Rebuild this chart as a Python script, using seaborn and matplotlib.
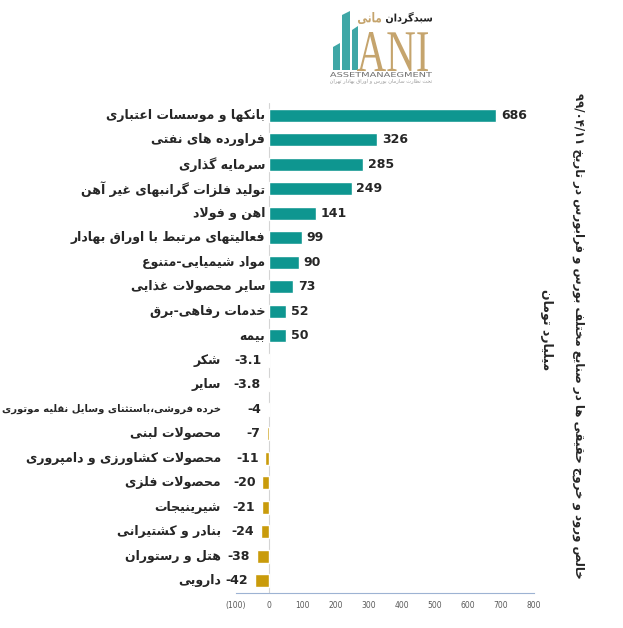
import re
import pandas as pd
import matplotlib
matplotlib.use("Agg")
import matplotlib.pyplot as plt
import seaborn as sns
from matplotlib.textpath import TextPath
from matplotlib.patches import PathPatch, Polygon
from matplotlib.font_manager import FontProperties
from matplotlib.transforms import Affine2D

sectors = [
    "بانکها و موسسات اعتباری",
    "فراورده های نفتی",
    "سرمایه گذاری",
    "تولید فلزات گرانبهای غیر آهن",
    "اهن و فولاد",
    "فعالیتهای مرتبط با اوراق بهادار",
    "مواد شیمیایی-متنوع",
    "سایر محصولات غذایی",
    "خدمات رفاهی-برق",
    "بیمه",
    "شکر",
    "سایر",
    "خرده فروشی،باستثنای وسایل نقلیه موتوری",
    "محصولات لبنی",
    "محصولات کشاورزی و دامپروری",
    "محصولات فلزی",
    "شیرینیجات",
    "بنادر و کشتیرانی",
    "هتل و رستوران",
    "دارویی",
]
values = [686, 326, 285, 249, 141, 99, 90, 73, 52, 50,
          -3.1, -3.8, -4, -7, -11, -20, -21, -24, -38, -42]
x_ticks = [-100, 0, 100, 200, 300, 400, 500, 600, 700, 800]
x_tick_labels = ["(100)", "0", "100", "200", "300", "400", "500", "600", "700", "800"]
title = "خالص ورود و خروج حقیقی ها در صنایع مختلف بورس و فرابورس در تاریخ ۹۹/۰۴/۱۱"
unit = "میلیارد تومان"

TEAL = "#0e9690"
GOLD = "#c99b0b"

# --- minimal persian shaping (matplotlib has no arabic shaping / bidi) ---
DUAL = {0x0628: 0xFE8F, 0x067E: 0xFB56, 0x062A: 0xFE95, 0x062B: 0xFE99, 0x062C: 0xFE9D,
        0x0686: 0xFB7A, 0x062D: 0xFEA1, 0x062E: 0xFEA5, 0x0633: 0xFEB1, 0x0634: 0xFEB5,
        0x0635: 0xFEB9, 0x0636: 0xFEBD, 0x0637: 0xFEC1, 0x0638: 0xFEC5, 0x0639: 0xFEC9,
        0x063A: 0xFECD, 0x0641: 0xFED1, 0x0642: 0xFED5, 0x06A9: 0xFB8E, 0x06AF: 0xFB92,
        0x0644: 0xFEDD, 0x0645: 0xFEE1, 0x0646: 0xFEE5, 0x0647: 0xFEE9, 0x06CC: 0xFBFC}
RIGHT = {0x0627: 0xFE8D, 0x0622: 0xFE81, 0x062F: 0xFEA9, 0x0630: 0xFEAB, 0x0631: 0xFEAD,
         0x0632: 0xFEAF, 0x0698: 0xFB8A, 0x0648: 0xFEED}
LAM_ALEF = {0x0627: 0xFEFB, 0x0622: 0xFEF5}


def shape(s):
    out, i = [], 0
    while i < len(s):
        c = ord(s[i])
        prev = i > 0 and ord(s[i - 1]) in DUAL
        nxt = ord(s[i + 1]) if i + 1 < len(s) else 0
        if c == 0x0644 and nxt in LAM_ALEF:
            out.append(chr(LAM_ALEF[nxt] + prev))
            i += 2
            continue
        if c in DUAL:
            out.append(chr(DUAL[c] + prev + 2 * (nxt in DUAL or nxt in RIGHT)))
        elif c in RIGHT:
            out.append(chr(RIGHT[c] + prev))
        else:
            out.append(s[i])
        i += 1
    return "".join(out)


def fa(s):
    parts = re.findall(r"[0-9۰-۹][0-9۰-۹./]*|[^0-9۰-۹]+", shape(s))
    return "".join(p if p[0].isdigit() else p[::-1] for p in reversed(parts))


def stretch_text(ax, s, x0, x1, y0, y1, color, weight="normal", family="DejaVu Sans"):
    """Draw text squeezed into a pixel box (y grows downward)."""
    tp = TextPath((0, 0), s, size=1, prop=FontProperties(family=family, weight=weight))
    ext = tp.get_extents()
    tr = (Affine2D().translate(-ext.x0, -ext.y0)
          .scale((x1 - x0) / ext.width, -(y1 - y0) / ext.height).translate(x0, y1))
    ax.add_patch(PathPatch(tr.transform_path(tp), color=color, lw=0))


sns.set_style("white")
plt.rcParams["font.family"] = ["DejaVu Sans"]

df = pd.DataFrame({"sector": sectors, "value": values})
colors = [TEAL if v > 0 else GOLD for v in values]

fig = plt.figure(figsize=(6.23, 6.28), dpi=100)
ax = fig.add_axes([236 / 623, 35 / 628, 298 / 623, 490 / 628])
sns.barplot(data=df, x="value", y="sector", hue="sector", palette=colors,
            legend=False, width=0.55, saturation=1, ax=ax)

ax.set_xlim(-100, 800)
ax.set_ylim(len(values) - 0.5, -0.5)
ax.set_xticks(x_ticks)
ax.set_xticklabels(x_tick_labels)
ax.get_xticklabels()[0].set_color("#e02020")
ax.tick_params(axis="x", length=0, pad=6, labelsize=5.5, labelcolor="#595959")
ax.set_yticks([])
ax.set_xlabel("")
ax.set_ylabel("")
for side in ["top", "right", "left"]:
    ax.spines[side].set_visible(False)
ax.spines["bottom"].set_color("#9db3d3")
ax.axvline(0, color="#d4d4d4", lw=0.8, zorder=0)

name_texts = []
for i, (name, v) in enumerate(zip(sectors, values)):
    if v > 0:
        ax.annotate(f"{v:g}", (v, i), xytext=(3.5, 0), textcoords="offset points",
                    ha="left", va="center", fontsize=9, fontweight="bold")
        t = ax.text(-12, i, fa(name), ha="right", va="center", fontsize=9, fontweight="bold")
    else:
        ax.annotate(f"{v:g}", (v, i), xytext=(-5, 0), textcoords="offset points",
                    ha="right", va="center", fontsize=9, fontweight="bold")
        t = ax.text(-145, i, fa(name), ha="right", va="center", fontsize=9, fontweight="bold")
    name_texts.append(t)

# shrink any sector name that would run off the left edge
renderer = fig.canvas.get_renderer()
for t in name_texts:
    bb = t.get_window_extent(renderer)
    if bb.x0 < 2:
        t.set_fontsize(9 * (bb.x1 - 2) / bb.width)

fig.text(579 / 623, 1 - 336 / 628, fa(title), rotation=270, ha="center", va="center",
         fontsize=8.5, fontweight="bold")
fig.text(546 / 623, 1 - 330 / 628, fa(unit), rotation=270, ha="center", va="center",
         fontsize=9, fontweight="bold")

# logo
ov = fig.add_axes([0, 0, 1, 1], zorder=-1)
ov.set_xlim(0, 623)
ov.set_ylim(628, 0)
ov.axis("off")
for xa, xb, top in [(333, 340, 43), (342, 350, 11), (352, 358, 26)]:
    ov.add_patch(Polygon([(xa, 70), (xa, top + 4), (xb, top), (xb, 70)], color="#3fa7a6", lw=0))
stretch_text(ov, "ANI", 357, 428, 32, 71, "#c5a46d", family="Liberation Serif")
stretch_text(ov, fa("سبدگردان"), 386, 432, 12, 24, "#222222", weight="bold")
stretch_text(ov, fa("مانی"), 358, 381, 12, 24, "#c5a46d", weight="bold")
stretch_text(ov, "ASSETMANAEGMENT", 330, 432, 72, 77, "#6d6d6d")
stretch_text(ov, fa("تحت نظارت سازمان بورس و اوراق بهادار تهران"), 330, 432, 79, 84, "#9a9a9a")

fig.savefig("out.png", dpi=100)
